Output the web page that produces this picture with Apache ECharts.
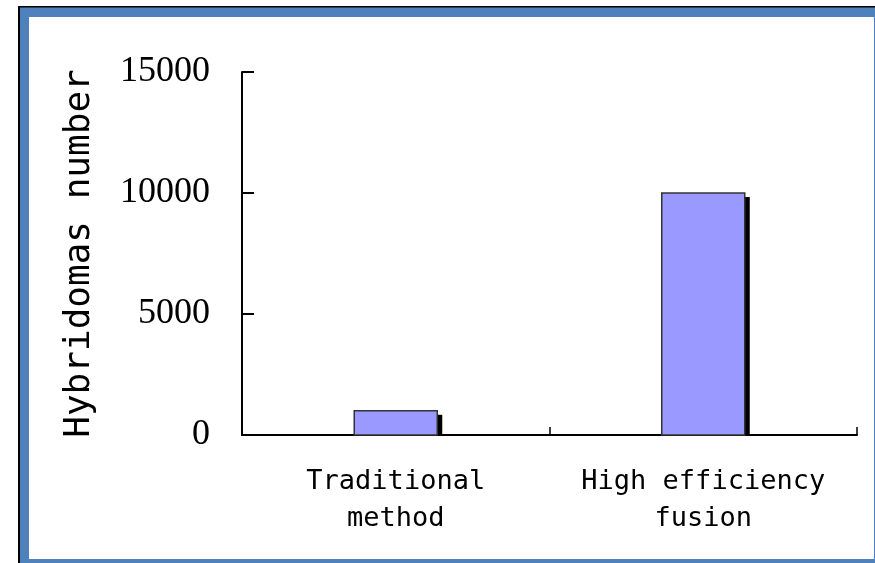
<!DOCTYPE html>
<html>
<head>
<meta charset="utf-8">
<script src="https://cdn.jsdelivr.net/npm/echarts@6/dist/echarts.min.js"></script>
<style>
  html, body { margin: 0; padding: 0; background: #fff; }
  #chart { width: 875px; height: 563px; }
</style>
</head>
<body>
<div id="chart"></div>
<script>
// Hybridoma yield per fusion method
const categories = ['Traditional\nmethod', 'High efficiency\nfusion'];
const hybridomaCounts = [1000, 10000];
const yTicks = { min: 0, max: 15000, interval: 5000 };

const chart = echarts.init(document.getElementById('chart'), null, { renderer: 'canvas' });

const barData = hybridomaCounts.map((v, i) => [i, v]);

const option = {
  animation: false,
  backgroundColor: '#ffffff',
  graphic: [
    // framed panel: dark edge top/left, blue band, white interior
    { type: 'rect', z: -100, shape: { x: 18, y: 6, width: 857, height: 557 }, style: { fill: '#000000' } },
    { type: 'rect', z: -99, shape: { x: 20, y: 7.5, width: 855, height: 555.5 }, style: { fill: '#4f81bd' } },
    { type: 'rect', z: -98, shape: { x: 29, y: 17, width: 845, height: 542 }, style: { fill: '#ffffff' } }
  ],
  grid: { left: 242, right: 18, top: 72, bottom: 128, containLabel: false },
  xAxis: {
    type: 'category',
    data: categories,
    boundaryGap: true,
    axisLine: { lineStyle: { color: '#000', width: 2 } },
    axisTick: { show: true, inside: true, length: 8, alignWithLabel: false, lineStyle: { color: '#000', width: 1.5 } },
    axisLabel: {
      interval: 0,
      margin: 28,
      fontFamily: 'DejaVu Sans Mono',
      fontSize: 27,
      lineHeight: 37,
      color: '#000',
      align: 'center'
    },
    splitLine: { show: false }
  },
  yAxis: {
    type: 'value',
    min: yTicks.min,
    max: yTicks.max,
    interval: yTicks.interval,
    name: 'Hybridomas number',
    nameLocation: 'middle',
    nameRotate: 90,
    nameGap: 144,
    nameTextStyle: { fontFamily: 'DejaVu Sans Mono', fontSize: 36, color: '#000' },
    axisLine: { show: true, lineStyle: { color: '#000', width: 2 } },
    axisTick: { show: true, inside: true, length: 12, lineStyle: { color: '#000', width: 2 } },
    axisLabel: {
      margin: 32,
      fontFamily: 'Liberation Serif',
      fontSize: 36,
      color: '#000',
      padding: [7, 0, 0, 0],
      formatter: function (v) { return String(v); }
    },
    splitLine: { show: false }
  },
  series: [{
    type: 'custom',
    data: barData,
    encode: { x: 0, y: 1 },
    renderItem: function (params, api) {
      const top = api.coord([api.value(0), api.value(1)]);
      const base = api.coord([api.value(0), 0]);
      const bw = api.size([1, 0])[0] * 0.27;
      const x = top[0] - bw / 2;
      const h = base[1] - top[1];
      return {
        type: 'group',
        children: [
          { type: 'rect', shape: { x: x + bw, y: top[1] + 4, width: 5, height: h - 4 }, style: { fill: '#000' } },
          { type: 'rect', shape: { x: x, y: top[1], width: bw, height: h }, style: { fill: '#9999ff', stroke: '#333', lineWidth: 1.5 } }
        ]
      };
    }
  }]
};

chart.setOption(option);
</script>
</body>
</html>
